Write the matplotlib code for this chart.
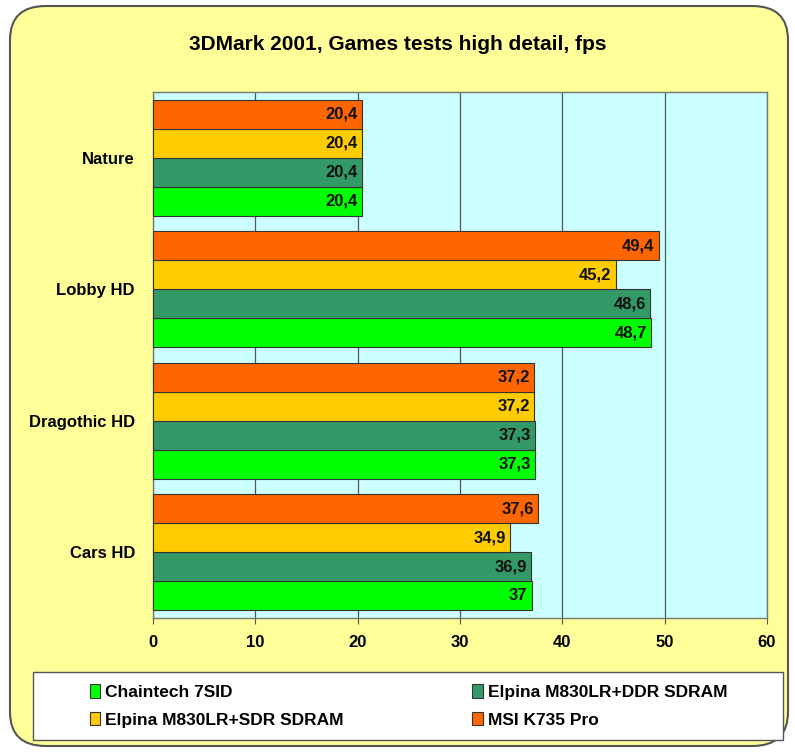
import numpy as np
import matplotlib.pyplot as plt
from matplotlib.patches import FancyBboxPatch, Rectangle

plt.rcParams['font.family'] = ['Liberation Sans', 'DejaVu Sans']

categories = ['Nature', 'Lobby HD', 'Dragothic HD', 'Cars HD']
chaintech = [20.4, 48.7, 37.3, 37]
elpina_ddr = [20.4, 48.6, 37.3, 36.9]
elpina_sdr = [20.4, 45.2, 37.2, 34.9]
msi = [20.4, 49.4, 37.2, 37.6]

series = [
    ('Chaintech 7SID', chaintech, '#00FF00'),
    ('Elpina M830LR+DDR SDRAM', elpina_ddr, '#339966'),
    ('Elpina M830LR+SDR SDRAM', elpina_sdr, '#FFCC00'),
    ('MSI K735 Pro', msi, '#FF6600'),
]

W, H = 795, 754
fig = plt.figure(figsize=(W / 100, H / 100), dpi=100)
fig.patch.set_facecolor('white')

# rounded yellow background
bg = FancyBboxPatch((10 / W, 8 / H), 778 / W, 740 / H,
                    boxstyle="round,pad=0,rounding_size=0.045",
                    transform=fig.transFigure, facecolor='#FFFF99',
                    edgecolor='#555555', linewidth=1.5, zorder=-2)
fig.patches.append(bg)

# legend box
lb = Rectangle((33 / W, 1 - 740 / H), 750 / W, 68 / H, transform=fig.transFigure,
               facecolor='white', edgecolor='#555555', linewidth=1, zorder=-1)
fig.patches.append(lb)

ax = fig.add_axes([153 / W, 1 - 618 / H, 614 / W, 526 / H])
ax.set_facecolor('#CCFFFF')

n = len(categories)
y = np.arange(n)[::-1]
bh = 0.22
offsets = [-1.5 * bh, -0.5 * bh, 0.5 * bh, 1.5 * bh]

handles = []
for (label, vals, col), off in zip(series, offsets):
    b = ax.barh(y + off, vals, height=bh, color=col, edgecolor='#333333',
                linewidth=0.8, label=label, zorder=3)
    handles.append(b)
    for yy, v in zip(y, vals):
        txt = ('%g' % v).replace('.', ',')
        ax.text(v - 0.4, yy + off, txt, ha='right', va='center',
                fontsize=12, fontweight='bold', color='#111111', zorder=4)

ax.set_xlim(0, 60)
ax.set_ylim(-0.5, n - 0.5)
ax.set_xticks(range(0, 61, 10))
ax.set_yticks(y)
ax.set_yticklabels(categories)
ax.xaxis.grid(True, color='#555555', linewidth=0.9, zorder=1)
ax.set_axisbelow(True)
ax.tick_params(axis='x', labelsize=12, length=4, color='#555555', pad=8)
ax.tick_params(axis='y', labelsize=12, length=0, pad=13)
for t in ax.get_xticklabels() + ax.get_yticklabels():
    t.set_fontweight('bold')
for s in ax.spines.values():
    s.set_color('#777777')
    s.set_linewidth(1)

fig.text(0.5, 1 - 45 / H, '3DMark 2001, Games tests high detail, fps',
         ha='center', va='center', fontsize=15, fontweight='bold')

order = [handles[0], handles[2], handles[1], handles[3]]
leg = fig.legend(order, [h.get_label() for h in order], ncol=2,
                 loc='center left', bbox_to_anchor=(74 / W, 1 - 706 / H),
                 frameon=False, handlelength=0.6,
                 handleheight=0.8, handletextpad=0.3, columnspacing=7.4,
                 labelspacing=0.7, prop={'weight': 'bold', 'size': 12.5})

fig.savefig('out.png', dpi=100)
